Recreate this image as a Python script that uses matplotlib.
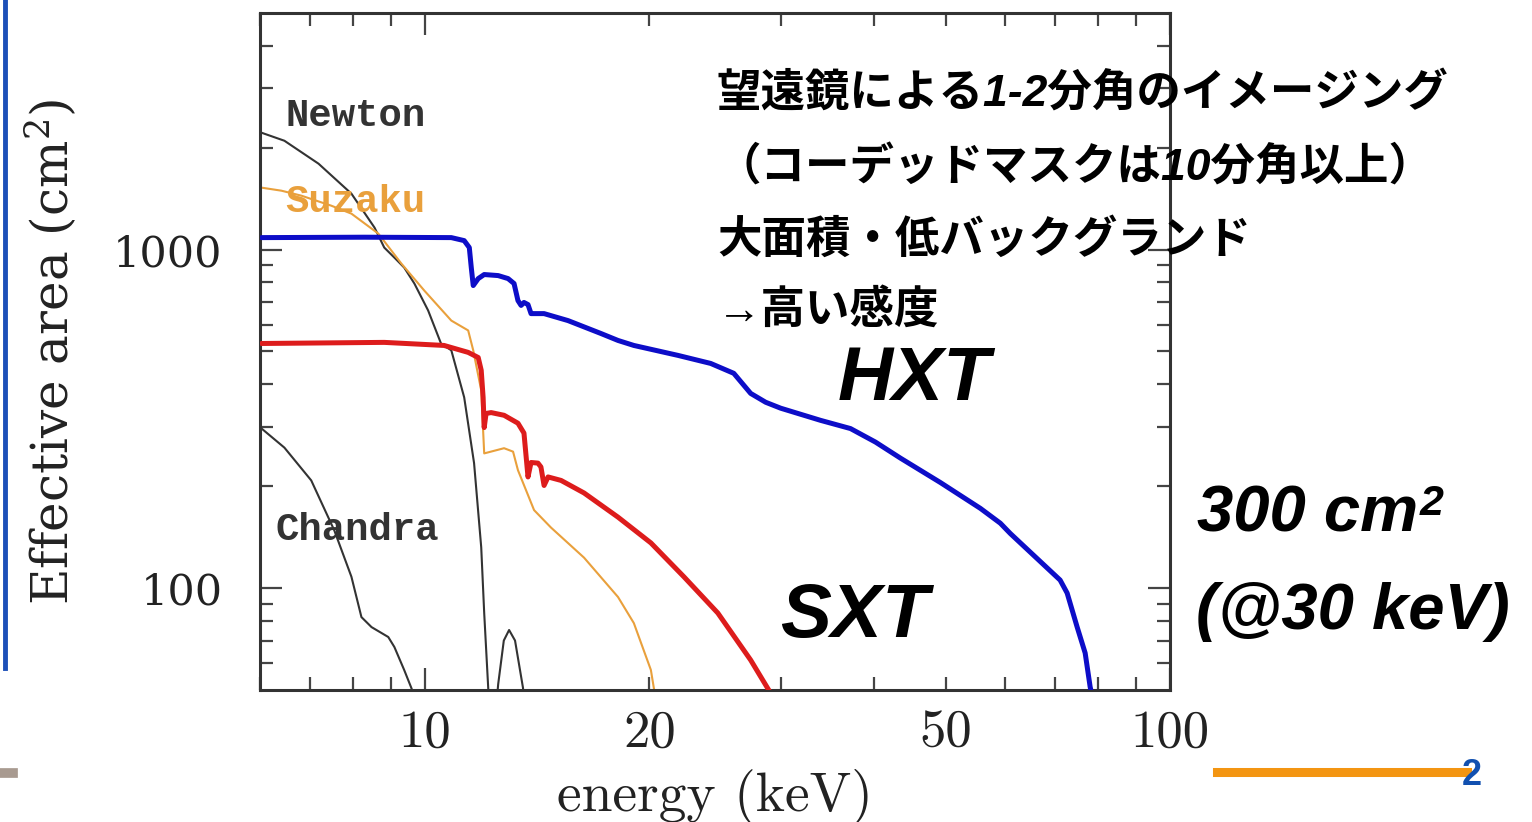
import matplotlib
matplotlib.use('Agg')
import matplotlib.pyplot as plt
from matplotlib.lines import Line2D
from matplotlib.text import Annotation

# ---------------- data ----------------
hxt_energy = [6.03, 8.28, 10.84, 11.28, 11.46, 11.53, 11.60, 11.78, 12.00, 12.53, 12.92,
              13.16, 13.32, 13.45, 13.57, 13.74, 13.87, 14.00, 14.44, 15.55, 17.22, 18.15,
              19.06, 21.84, 24.17, 25.96, 27.35, 28.65, 30.01, 33.95, 37.24, 40.23, 43.47,
              49.18, 55.64, 59.18, 61.03, 71.20, 72.76, 75.05, 76.93, 78.12, 78.6]
hxt_area = [1085, 1088, 1085, 1063, 1014, 885, 783, 821, 844, 838, 821,
            794, 707, 684, 698, 688, 647, 647, 647, 617, 565, 539,
            521, 487, 461, 431, 376, 354, 340, 313, 296, 270, 242,
            205, 172, 155.5, 145, 105.6, 96.7, 76.7, 64.3, 51.1, 48]

sxt_energy = [6.03, 8.81, 10.60, 11.42, 11.78, 11.89, 11.96, 12.00, 12.07, 12.26, 12.76,
              13.32, 13.57, 13.74, 13.87, 14.17, 14.30, 14.44, 14.62, 15.22, 16.34, 18.15,
              20.09, 22.25, 24.71, 27.35, 28.92, 29.3]
sxt_area = [528, 532, 521, 497, 480, 440, 366, 298, 328, 330, 324,
            307, 287, 213, 235, 234, 228, 201, 213, 208, 191, 162,
            136, 108, 84.4, 61.3, 50, 47]

suzaku_energy = [6.03, 6.41, 6.82, 7.48, 7.96, 8.65, 9.29, 9.97, 10.84, 11.42, 11.60,
                 11.89, 12.00, 12.76, 13.12, 13.32, 14.00, 14.75, 16.34, 18.15, 19.06,
                 20.09, 20.28, 20.4]
suzaku_area = [1524, 1493, 1443, 1348, 1277, 1115, 909, 757, 617, 577, 504,
               384, 250, 259, 253, 223, 170, 151, 123, 94.1, 78.8,
               57.3, 50.5, 47]

newton_energy = [6.03, 6.47, 7.19, 7.96, 8.55, 8.81, 9.09, 9.37, 9.67, 10.09, 10.50,
                 10.84, 11.28, 11.63, 11.89, 12.00, 12.15, 12.22, 12.40, 12.53, 12.75,
                 12.96, 13.20, 13.53, 13.62]
newton_area = [2214, 2097, 1794, 1463, 1161, 1014, 947, 885, 794, 661, 528,
               504, 366, 234, 132, 84.4, 50.7, 40, 40, 52, 70,
               75.2, 70, 50.7, 40]

chandra_energy = [6.03, 6.47, 7.03, 7.55, 7.96, 8.21, 8.47, 8.92, 9.09, 9.37, 9.58, 9.7]
chandra_area = [296, 260, 208, 148, 108, 82.1, 76.7, 71.7, 67.0, 57.3, 50.7, 47]

x_major = [10, 100]
x_major_labels = ['10', '100']
x_minor = [6, 7, 8, 9, 20, 30, 40, 50, 60, 70, 80, 90]
x_minor_labels = ['', '', '', '', '20', '', '', '50', '', '', '', '']
y_major = [100, 1000]
y_major_labels = ['100', '1000']
y_minor = [60, 70, 80, 90, 200, 300, 400, 500, 600, 700, 800, 900, 2000, 3000, 4000]

x_label = 'energy (keV)'
y_label = r'Effective area (cm$^{2}$)'

jp_lines = ['望遠鏡による1-2分角のイメージング',
            '（コーデッドマスクは10分角以上）',
            '大面積・低バックグランド',
            '→高い感度']

# ---------------- figure ----------------
plt.rcParams['mathtext.fontset'] = 'dejavuserif'
W, H = 1532, 822
fig = plt.figure(figsize=(W / 100, H / 100), dpi=100)
ax = fig.add_axes([260 / W, 132 / H, 910 / W, 677 / H])
ax.set_xscale('log')
ax.set_yscale('log')
ax.set_xlim(6, 100)
ax.set_ylim(50, 5000)

thin = dict(lw=1.5, solid_joinstyle='round', solid_capstyle='round')
thick = dict(lw=3.6, solid_joinstyle='round', solid_capstyle='round')
ax.plot(chandra_energy, chandra_area, color='#333333', zorder=2, **thin)
ax.plot(newton_energy, newton_area, color='#333333', zorder=2, **thin)
ax.plot(suzaku_energy, suzaku_area, color='#e9a03c', zorder=2, **thin)
ax.plot(sxt_energy, sxt_area, color='#dd1c1c', zorder=3, **thick)
ax.plot(hxt_energy, hxt_area, color='#0d0dc8', zorder=3, **thick)

# ticks
ax.set_xticks(x_major)
ax.set_xticklabels(x_major_labels)
ax.set_xticks(x_minor, minor=True)
ax.set_xticklabels(x_minor_labels, minor=True)
ax.set_yticks(y_major)
ax.set_yticklabels(y_major_labels)
ax.set_yticks(y_minor, minor=True)
ax.set_yticklabels([''] * len(y_minor), minor=True)

ax.tick_params(which='both', direction='in', top=True, right=True,
               color='#444444', width=1.6, labelcolor='#222222')
ax.tick_params(which='major', length=16)
ax.tick_params(which='minor', length=9.5)
ax.tick_params(axis='x', which='both', pad=14)
ax.tick_params(axis='y', which='both', pad=27)
for lab in ax.get_xticklabels(which='both'):
    lab.set_fontfamily('cmr10')
    lab.set_fontsize(38)
for lab in ax.get_yticklabels(which='both'):
    lab.set_fontfamily('DejaVu Serif')
    lab.set_fontsize(31)

for sp in ax.spines.values():
    sp.set_linewidth(2.2)
    sp.set_color('#333333')

ax.set_xlabel(x_label, fontfamily='cmr10', fontsize=40, color='#222222',
              va='center', ha='center')
ax.xaxis.set_label_coords(0.5, -0.158)
ax.set_ylabel(y_label, fontfamily='DejaVu Serif', fontsize=36, color='#222222',
              va='center', ha='center', rotation=90)
ax.yaxis.set_label_coords(-0.229, 0.5)

# curve names
lab_font = dict(family='Liberation Mono', weight='bold', fontsize=28,
                transform=ax.transAxes, va='center', ha='left')
ax.text(0.0275, 0.848, 'Newton', color='#333333', **lab_font)
ax.text(0.0275, 0.721, 'Suzaku', color='#e9a03c', **lab_font)
ax.text(0.0165, 0.236, 'Chandra', color='#333333', **lab_font)

# instrument names
big = dict(family='Liberation Sans', weight='bold', style='italic', color='black')
fig.text(914 / W, 1 - 380 / H, 'HXT', fontsize=55, ha='center', va='center', **big)
fig.text(854 / W, 1 - 617 / H, 'SXT', fontsize=55, ha='center', va='center', **big)
t300 = fig.text(1197 / W, 1 - 515 / H, '300 cm', fontsize=47, ha='left', va='center', **big)
sup = Annotation('2', xy=(1.0, 1.0), xycoords=t300, xytext=(1, 1),
                 textcoords='offset points', ha='left', va='top', fontsize=31, **big)
fig.add_artist(sup)
fig.text(1196 / W, 1 - 612 / H, '(@30 keV)', fontsize=47, ha='left', va='center', **big)

# Japanese notes
jp_y = [93, 168, 240, 310]
for line, yy in zip(jp_lines, jp_y):
    fig.text(717 / W, 1 - yy / H, line, fontsize=32, weight='bold', style='italic',
             family=['Liberation Sans', 'Noto Sans CJK JP'], ha='left', va='center',
             color='black', zorder=5)

# slide decorations
fig.add_artist(Line2D([5 / W, 5 / W], [1, 1 - 668 / H], color='#1c4fb8', lw=3.5))
fig.add_artist(Line2D([0, 13 / W], [1 - 773 / H, 1 - 773 / H], color='#a89a90', lw=7))
fig.add_artist(Line2D([1217 / W, 1467 / W], [1 - 772 / H, 1 - 772 / H], color='#f39512', lw=6.5))
fig.text(1472 / W, 1 - 775 / H, '2', family='Liberation Sans', weight='bold',
         fontsize=26, color='#1150b0', ha='center', va='center')

fig.savefig('out.png', dpi=100, facecolor='white')
